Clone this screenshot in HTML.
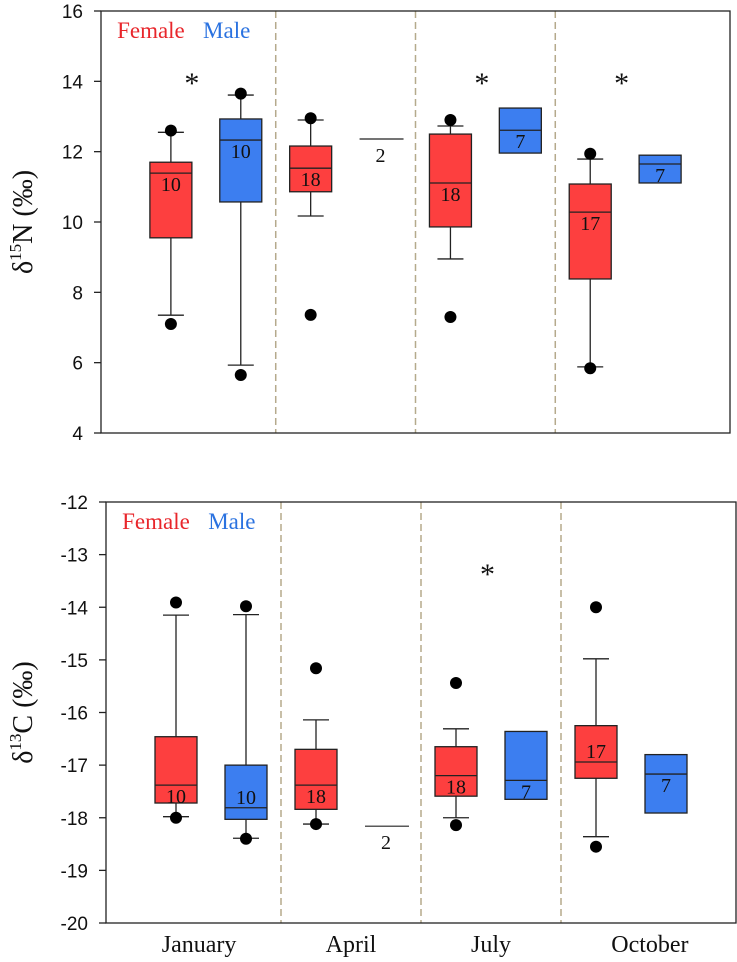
<!DOCTYPE html>
<html><head><meta charset="utf-8">
<style>
html,body{margin:0;padding:0;background:#fff;}
svg{display:block;}
</style></head>
<body>
<svg id="chart" width="737" height="962" viewBox="0 0 737 962" xmlns="http://www.w3.org/2000/svg"></svg>
<script>
// ---- data ----
const months = ["January","April","July","October"];
const sexes = ["F","M","F","M","F","M","F","M"];
const nCounts = [10,10,18,2,18,7,17,7];
// delta15N
const n15WhiskerLow = [7.35,5.93,10.17,null,8.95,null,5.88,null];
const n15Q1 = [9.55,10.57,10.86,12.36,9.86,11.96,8.38,11.11];
const n15Median = [11.39,12.33,11.53,12.36,11.11,12.61,10.28,11.65];
const n15Q3 = [11.7,12.93,12.16,12.36,12.5,13.24,11.08,11.9];
const n15WhiskerHigh = [12.55,13.61,12.9,null,12.73,null,11.79,null];
const n15OutLow = [7.1,5.65,7.36,null,7.3,null,5.84,null];
const n15OutHigh = [12.6,13.65,12.95,null,12.9,null,11.94,null];
const n15Stars = [1.3,5.45,7.45];
const n15Ticks = [4,6,8,10,12,14,16];
// delta13C
const c13WhiskerLow = [-17.98,-18.39,-18.12,null,-18.0,null,-18.36,null];
const c13Q1 = [-17.72,-18.03,-17.84,-18.16,-17.59,-17.65,-17.25,-17.91];
const c13Median = [-17.38,-17.81,-17.38,-18.16,-17.2,-17.29,-16.94,-17.17];
const c13Q3 = [-16.46,-17.0,-16.7,-18.16,-16.65,-16.36,-16.25,-16.8];
const c13WhiskerHigh = [-14.15,-14.14,-16.14,null,-16.31,null,-14.98,null];
const c13OutLow = [-18.0,-18.4,-18.12,null,-18.14,null,-18.55,null];
const c13OutHigh = [-13.91,-13.98,-15.16,null,-15.44,null,-14.0,null];
const c13Stars = [5.45];
const c13Ticks = [-20,-19,-18,-17,-16,-15,-14,-13,-12];
const c13LabelAbove = [false,true,false,false,false,false,true,false];

const NS="http://www.w3.org/2000/svg";
const svg=document.getElementById('chart');
function mk(tag,attrs,parent){const e=document.createElementNS(NS,tag);for(const k in attrs)e.setAttribute(k,attrs[k]);(parent||svg).appendChild(e);return e;}

function panel(o){
  const g=mk('g',{});
  
  
  const xs=p=>o.x0+(o.x1-o.x0)*p/9;
  const ys=v=>o.y1-(o.y1-o.y0)*(v-o.ymin)/(o.ymax-o.ymin);
  [2.5,4.5,6.5].forEach((d,i)=>{
    const l=mk('line',{x1:xs(d),x2:xs(d),y1:o.y0,y2:o.y1,stroke:'#b5aa8c','stroke-width':1.5,'stroke-dasharray':'7,4'},g);
    
    
  });
  const fr=mk('rect',{x:o.x0,y:o.y0,width:o.x1-o.x0,height:o.y1-o.y0,fill:'none',stroke:'#222','stroke-width':1.3},g);
  
  
  o.ticks.forEach(t=>{
    const y=ys(t);
    const tl=mk('line',{x1:o.x0-7,x2:o.x0,y1:y,y2:y,stroke:'#222','stroke-width':1.3},g);
    
    
    const tx=mk('text',{x:o.x0-18,y:y+7,'text-anchor':'end','font-family':'Liberation Sans, sans-serif','font-size':19,fill:'#111'},g);
    tx.textContent=t;
    
    
  });
  const tt=mk('text',{transform:`translate(${o.titleX},${(o.y0+o.y1)/2}) rotate(-90)`,'text-anchor':'middle','font-family':'Liberation Serif, serif','font-size':28,fill:'#111'},g);
  tt.innerHTML=`δ<tspan dy="-11" font-size="17">${o.iso}</tspan><tspan dy="11">${o.el} (‰)</tspan>`;
  
  
  const lf=mk('text',{x:xs(0.23),y:o.y0+27,'font-family':'Liberation Serif, serif','font-size':23,fill:'#e8262b'},g);
  lf.textContent='Female';
  
  
  const lm=mk('text',{x:xs(1.46),y:o.y0+27,'font-family':'Liberation Serif, serif','font-size':23,fill:'#2a72e0'},g);
  lm.textContent='Male';
  
  
  const hw=21;
  for(let i=0;i<8;i++){
    const cx=xs(i+1);
    const bg=mk('g',{},g);
    
    
    const fill=sexes[i]==='F'?'#fd3f3f':'#3c7ef0';
    if(o.wh[i]!==null){
      mk('line',{x1:cx,x2:cx,y1:ys(o.q3[i]),y2:ys(o.wh[i]),stroke:'#222','stroke-width':1.3},bg);
      mk('line',{x1:cx-13,x2:cx+13,y1:ys(o.wh[i]),y2:ys(o.wh[i]),stroke:'#222','stroke-width':1.3},bg);
      mk('line',{x1:cx,x2:cx,y1:ys(o.q1[i]),y2:ys(o.wl[i]),stroke:'#222','stroke-width':1.3},bg);
      mk('line',{x1:cx-13,x2:cx+13,y1:ys(o.wl[i]),y2:ys(o.wl[i]),stroke:'#222','stroke-width':1.3},bg);
    }
    if(o.q3[i]!==o.q1[i]){
      mk('rect',{x:cx-hw,y:ys(o.q3[i]),width:hw*2,height:ys(o.q1[i])-ys(o.q3[i]),fill:fill,stroke:'#222','stroke-width':1.3},bg);
      mk('line',{x1:cx-hw,x2:cx+hw,y1:ys(o.med[i]),y2:ys(o.med[i]),stroke:'#222','stroke-width':1.3},bg);
    } else {
      mk('line',{x1:cx-hw,x2:cx+hw+2,y1:ys(o.med[i]),y2:ys(o.med[i]),stroke:'#222','stroke-width':1.2},bg);
    }
    if(o.oh[i]!==null) mk('circle',{cx:cx,cy:ys(o.oh[i]),r:6,fill:'#000'},bg);
    if(o.ol[i]!==null) mk('circle',{cx:cx,cy:ys(o.ol[i]),r:6,fill:'#000'},bg);
    const single=o.q3[i]===o.q1[i];
    const above=o.above&&o.above[i];
    const ly=single?ys(o.med[i])+23:(above?ys(o.med[i])-4:ys(o.med[i])+18);
    const nl=mk('text',{x:cx,y:ly,'text-anchor':'middle','font-family':'Liberation Serif, serif','font-size':20,fill:'#111'},bg);
    nl.textContent=nCounts[i];
    
    
  }
  o.stars.forEach(s=>{
    const st=mk('text',{x:xs(s),y:o.starY,'text-anchor':'middle','font-family':'Liberation Serif, serif','font-size':30,fill:'#111'},g);
    st.textContent='*';
    
    
  });
  return xs;
}

panel({name:'nitrogen-panel',x0:101,x1:730,y0:11,y1:433,ymin:4,ymax:16,ticks:n15Ticks,titleX:32,iso:'15',el:'N',
  wl:n15WhiskerLow,q1:n15Q1,med:n15Median,q3:n15Q3,wh:n15WhiskerHigh,ol:n15OutLow,oh:n15OutHigh,stars:n15Stars,starY:93});
const xs2=panel({name:'carbon-panel',x0:106,x1:736,y0:502,y1:923,ymin:-20,ymax:-12,ticks:c13Ticks,titleX:32,iso:'13',el:'C',
  wl:c13WhiskerLow,q1:c13Q1,med:c13Median,q3:c13Q3,wh:c13WhiskerHigh,ol:c13OutLow,oh:c13OutHigh,stars:c13Stars,starY:584,above:c13LabelAbove});
const monthPos=[1.33,3.5,5.5,7.77];
months.forEach((m,i)=>{
  const t=mk('text',{x:xs2(monthPos[i]),y:952,'text-anchor':'middle','font-family':'Liberation Serif, serif','font-size':24,fill:'#111'});
  t.textContent=m;
  
  
});
</script>
</body></html>
